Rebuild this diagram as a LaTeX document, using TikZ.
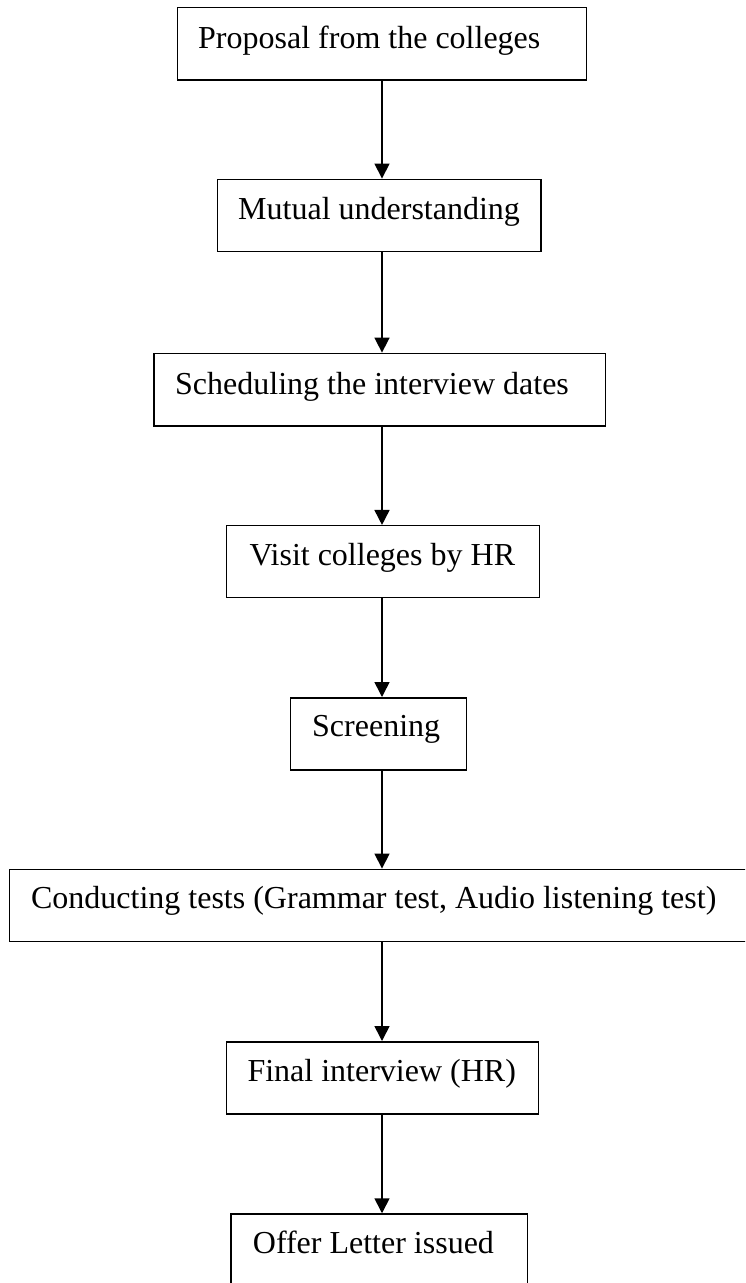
\documentclass[tikz,border=0pt]{standalone}
\usepackage{fontspec}
\setmainfont{Liberation Serif}
\usetikzlibrary{arrows.meta}
\tikzset{
  stepbox/.style={draw=black, line width=1.5pt, inner sep=0pt, rectangle},
  steptext/.style={anchor=base west, inner sep=0pt, font=\fontsize{32}{38}\selectfont},
  flow/.style={line width=1.6pt, -{Triangle[length=15pt,width=15pt]}}
}
\begin{document}
\begin{tikzpicture}[x=1pt, y=-1pt]
  \useasboundingbox (0,0) rectangle (745,1283);
  \clip (0,0) rectangle (745,1283);
  % boxes of the flow
  \node[stepbox, minimum width=409.4pt, minimum height=72.7pt] (b1) at (382,43.7) {};
  \node[stepbox, minimum width=323.3pt, minimum height=72.4pt] (b2) at (379.3,215.5) {};
  \node[stepbox, minimum width=451.3pt, minimum height=72.7pt] (b3) at (379.7,389.7) {};
  \node[stepbox, minimum width=312.6pt, minimum height=71.6pt] (b4) at (383,561.5) {};
  \node[stepbox, minimum width=175.8pt, minimum height=72.3pt] (b5) at (378.6,733.9) {};
  \node[stepbox, minimum width=750.5pt, minimum height=72.4pt] (b6) at (384.75,905.5) {};
  \node[stepbox, minimum width=312.4pt, minimum height=72.3pt] (b7) at (382.5,1077.9) {};
  \node[stepbox, minimum width=296.7pt, minimum height=72.5pt] (b8) at (379.35,1250.25) {};
  % labels, set from the left as in a text box
  \node[steptext] (t1) at (198,48) {Proposal from the colleges};
  \node[steptext] (t2) at (238,219) {Mutual understanding};
  \node[steptext] (t3) at (175,394) {Scheduling the interview dates};
  \node[steptext] (t4) at (249.3,565) {Visit colleges by HR};
  \node[steptext] (t5) at (312,736.7) {Screening};
  \node[steptext] (t6) at (30.9,908) {Conducting tests (Grammar test, Audio listening test)};
  \node[steptext] (t7) at (247.3,1081.7) {Final interview (HR)};
  \node[steptext] (t8) at (252.7,1253.3) {Offer Letter issued};
  % common axis of the arrows
  \coordinate (ax) at (382,0);
  \draw[flow] (b1.south -| ax) -- (b2.north -| ax);
  \draw[flow] (b2.south -| ax) -- (b3.north -| ax);
  \draw[flow] (b3.south -| ax) -- (b4.north -| ax);
  \draw[flow] (b4.south -| ax) -- (b5.north -| ax);
  \draw[flow] (b5.south -| ax) -- (b6.north -| ax);
  \draw[flow] (b6.south -| ax) -- (b7.north -| ax);
  \draw[flow] (b7.south -| ax) -- (b8.north -| ax);
\end{tikzpicture}
\end{document}
